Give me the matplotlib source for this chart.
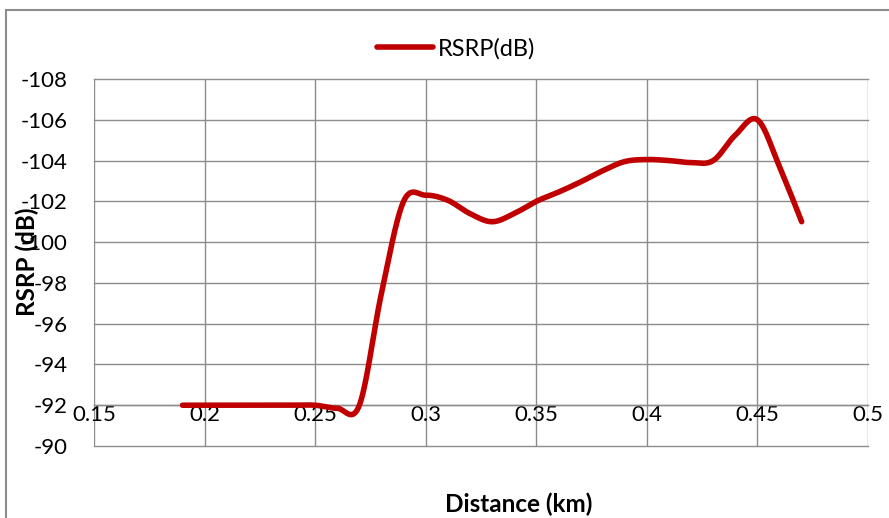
import numpy as np
import matplotlib
matplotlib.use("Agg")
import matplotlib.pyplot as plt
from matplotlib.lines import Line2D

# ---- data ----
distance_km = [0.19, 0.20, 0.21, 0.22, 0.23, 0.24, 0.25, 0.26, 0.27, 0.28,
               0.29, 0.30, 0.31, 0.32, 0.33, 0.34, 0.35, 0.36, 0.37, 0.38,
               0.39, 0.40, 0.41, 0.42, 0.43, 0.44, 0.45, 0.46, 0.47]
rsrp_db = [-92.0, -92.0, -92.0, -92.0, -92.0, -92.0, -92.0, -91.85, -92.0, -97.5,
           -102.0, -102.3, -102.05, -101.4, -101.0, -101.4, -102.0, -102.45, -102.95, -103.5,
           -103.95, -104.05, -104.0, -103.9, -104.0, -105.25, -106.0, -103.7, -101.0]
series_name = "RSRP(dB)"
x_ticks = [0.15, 0.2, 0.25, 0.3, 0.35, 0.4, 0.45, 0.5]
x_tick_labels = ["0.15", "0.2", "0.25", "0.3", "0.35", "0.4", "0.45", "0.5"]
y_ticks = [-108, -106, -104, -102, -100, -98, -96, -94, -92, -90]
y_tick_labels = ["-108", "-106", "-104", "-102", "-100", "-98", "-96", "-94", "-92", "-90"]
x_title = "Distance (km)"
y_title = "RSRP (dB)"

plt.rcParams['font.family'] = ['Lato', 'DejaVu Sans']
plt.rcParams['axes.unicode_minus'] = False


def smooth(xs, ys, n=40):
    """Excel-like smoothed line: cubic Bezier segments with Catmull-Rom tangents."""
    x = np.asarray(xs, float)
    y = np.asarray(ys, float)
    px = np.concatenate([[x[0]], x, [x[-1]]])
    py = np.concatenate([[y[0]], y, [y[-1]]])
    t = np.linspace(0, 1, n)
    ox, oy = [], []
    for i in range(1, len(px) - 2):
        p0x, p0y = px[i], py[i]
        p3x, p3y = px[i + 1], py[i + 1]
        b1x = p0x + (px[i + 1] - px[i - 1]) / 6
        b1y = p0y + (py[i + 1] - py[i - 1]) / 6
        b2x = p3x - (px[i + 2] - px[i]) / 6
        b2y = p3y - (py[i + 2] - py[i]) / 6
        a = (1 - t) ** 3
        b = 3 * (1 - t) ** 2 * t
        c = 3 * (1 - t) * t ** 2
        d = t ** 3
        ox.append(a * p0x + b * b1x + c * b2x + d * p3x)
        oy.append(a * p0y + b * b1y + c * b2y + d * p3y)
    return np.concatenate(ox), np.concatenate(oy)


W, H = 889, 518
fig = plt.figure(figsize=(W / 100, H / 100), dpi=100)
fig.patch.set_facecolor("white")
ax = fig.add_axes([94 / W, (H - 446) / H, 774 / W, 367 / H])

grid_col = "#8c8c8c"
sx, sy = smooth(distance_km, rsrp_db)
ax.plot(sx, sy, color="#C00000", lw=4.0, solid_capstyle="round",
        label=series_name, zorder=3)

ax.set_xlim(0.15, 0.5)
ax.set_ylim(-90, -108)
ax.set_xticks(x_ticks)
ax.set_xticklabels(x_tick_labels)
ax.set_yticks(y_ticks)
ax.set_yticklabels(y_tick_labels)
ax.grid(True, color=grid_col, lw=1.0)
for gl in ax.get_xgridlines() + ax.get_ygridlines():
    gl.set_clip_on(False)

for side in ("top", "left", "right"):
    ax.spines[side].set_visible(False)
ax.spines["bottom"].set_position(("data", -92))
ax.spines["bottom"].set_color(grid_col)
ax.spines["bottom"].set_linewidth(1.0)

ax.tick_params(axis="both", length=0, labelsize=16, colors="black")
ax.tick_params(axis="y", pad=19)
ax.tick_params(axis="x", pad=0)

fig.text(27 / W, 1 - 262 / H, y_title, rotation=90, fontsize=17.5,
         fontweight="bold", ha="center", va="center")
fig.text(519 / W, 1 - 504 / H, x_title, fontsize=17.5,
         fontweight="bold", ha="center", va="center")

fig.legend(loc="center", bbox_to_anchor=(456 / W, 1 - 49 / H), frameon=False,
           fontsize=17, handlelength=2.35, handletextpad=0.2)

# chart-area border
fig.add_artist(Line2D([5.5 / W, 5.5 / W], [0, 1 - 9.5 / H], color=grid_col, lw=1.5))
fig.add_artist(Line2D([5.5 / W, 1], [1 - 9.5 / H, 1 - 9.5 / H], color=grid_col, lw=1.5))

fig.savefig("out.png", dpi=100)
